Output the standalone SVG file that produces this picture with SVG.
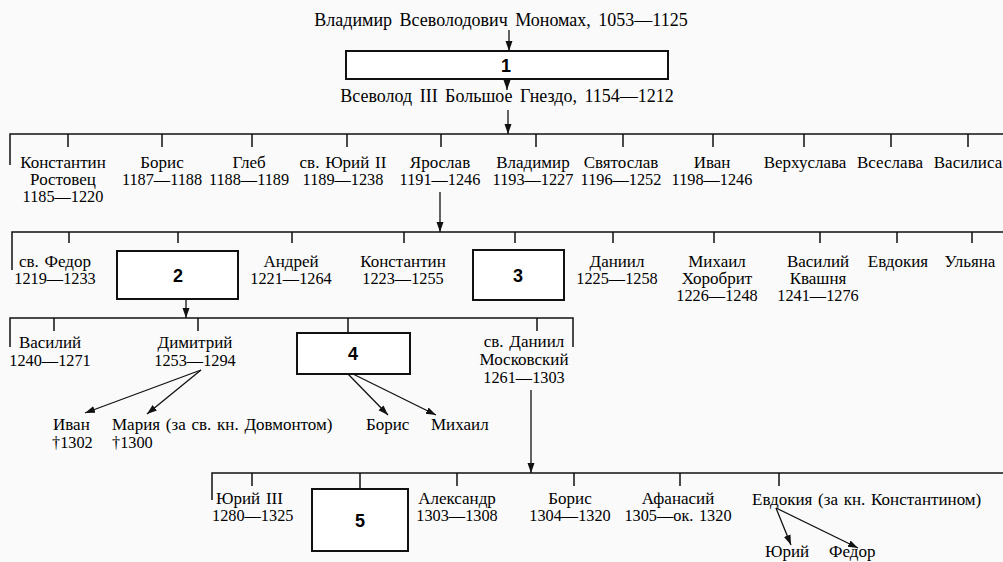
<svg xmlns="http://www.w3.org/2000/svg" width="1003" height="562" viewBox="0 0 1003 562">
<style>
text{font-family:"Liberation Serif","Times New Roman",serif;font-size:17px;word-spacing:1.5px;fill:#000}
.d{font-size:16.3px}
.t{font-size:18px;word-spacing:3px}
.c{text-anchor:middle}
.n{font-family:"Liberation Sans",Arial,sans-serif;font-weight:bold;font-size:18px;text-anchor:middle}
.box{fill:#fff;stroke:#111;stroke-width:2}
.ln{fill:none;stroke:#111;stroke-width:1.5}
.ar{fill:none;stroke:#111;stroke-width:1.3;marker-end:url(#ah)}
</style>
<defs>
<marker id="ah" markerUnits="userSpaceOnUse" markerWidth="10" markerHeight="10" viewBox="0 0 10 10" refX="10" refY="5" orient="auto">
<path d="M0,1.5 L10,5 L0,8.5 Z" fill="#111"/>
</marker>
</defs>
<rect width="1003" height="562" fill="#fafafa"/>

<g id="connectors">
<line class="ar" x1="509" y1="30" x2="509" y2="51"/>
<line class="ar" x1="507" y1="79" x2="507" y2="90"/>
<line class="ar" x1="508" y1="110" x2="508" y2="134"/>
<path class="ln" d="M10,165 V134 H1003"/>
<path class="ln" d="M68,134 V147 M162,134 V147 M252,134 V147 M347,134 V147 M441,134 V147 M536,134 V147 M623,134 V147 M713,134 V147 M804,134 V147 M891,134 V147 M968,134 V147"/>
<line class="ar" x1="440" y1="192" x2="440" y2="232"/>
<path class="ln" d="M12,270 V232 H1003"/>
<path class="ln" d="M69,232 V243 M178,232 V243 M292,232 V243 M404,232 V243 M515,232 V243 M613,232 V243 M714,232 V243 M820,232 V243 M897,232 V243 M972,232 V243"/>
<line class="ar" x1="186" y1="299" x2="186" y2="318"/>
<path class="ln" d="M10,347 V318 H573 V347"/>
<path class="ln" d="M54,318 V331 M198,318 V331 M348,318 V333 M537,318 V331"/>
<line class="ar" x1="201" y1="370" x2="85" y2="413"/>
<line class="ar" x1="201" y1="370" x2="147" y2="414"/>
<line class="ar" x1="348" y1="374" x2="388" y2="415"/>
<line class="ar" x1="353" y1="374" x2="436" y2="415"/>
<line class="ar" x1="531" y1="390" x2="531" y2="473"/>
<path class="ln" d="M212,500 V473 H1003"/>
<path class="ln" d="M252,473 V486 M360,473 V489 M457,473 V486 M574,473 V486 M680,473 V486 M779,473 V486"/>
<line class="ar" x1="776" y1="508" x2="791" y2="545"/>
<line class="ar" x1="776" y1="508" x2="858" y2="548"/>
</g>

<g id="root"><text class="c t" x="501" y="26">Владимир Всеволодович Мономах, 1053—1125</text></g>
<g id="box1"><rect class="box" x="346" y="51" width="322" height="28"/><text class="n" x="506" y="72">1</text></g>
<g id="vsevolod"><text class="c t" x="507" y="102">Всеволод III Большое Гнездо, 1154—1212</text></g>

<g id="konstantin-r"><text class="c" x="63" y="168">Константин</text><text class="c" x="63" y="185">Ростовец</text><text class="c d" x="63" y="202">1185—1220</text></g>
<g id="boris1"><text class="c" x="162" y="168">Борис</text><text class="c d" x="162" y="185">1187—1188</text></g>
<g id="gleb"><text class="c" x="249" y="168">Глеб</text><text class="c d" x="249" y="185">1188—1189</text></g>
<g id="yuri2"><text class="c" x="343" y="168">св. Юрий II</text><text class="c d" x="343" y="185">1189—1238</text></g>
<g id="yaroslav"><text class="c" x="440" y="168">Ярослав</text><text class="c d" x="440" y="185">1191—1246</text></g>
<g id="vladimir"><text class="c" x="533" y="168">Владимир</text><text class="c d" x="533" y="185">1193—1227</text></g>
<g id="svyatoslav"><text class="c" x="621" y="168">Святослав</text><text class="c d" x="621" y="185">1196—1252</text></g>
<g id="ivan1"><text class="c" x="712" y="168">Иван</text><text class="c d" x="712" y="185">1198—1246</text></g>
<g id="verkhuslava"><text class="c" x="805" y="168">Верхуслава</text></g>
<g id="vseslava"><text class="c" x="890" y="168">Всеслава</text></g>
<g id="vasilisa"><text class="c" x="968" y="168">Василиса</text></g>

<g id="fedor"><text class="c" x="55" y="267">св. Федор</text><text class="c d" x="55" y="284">1219—1233</text></g>
<g id="box2"><rect class="box" x="117" y="251" width="121" height="48"/><text class="n" x="178" y="282">2</text></g>
<g id="andrey"><text class="c" x="291" y="267">Андрей</text><text class="c d" x="291" y="284">1221—1264</text></g>
<g id="konstantin2"><text class="c" x="403" y="267">Константин</text><text class="c d" x="403" y="284">1223—1255</text></g>
<g id="box3"><rect class="box" x="473" y="250" width="91" height="50"/><text class="n" x="518" y="282">3</text></g>
<g id="daniil"><text class="c" x="617" y="267">Даниил</text><text class="c d" x="617" y="284">1225—1258</text></g>
<g id="mikhail-h"><text class="c" x="717" y="267">Михаил</text><text class="c" x="717" y="284">Хоробрит</text><text class="c d" x="717" y="301">1226—1248</text></g>
<g id="vasiliy-k"><text class="c" x="818" y="267">Василий</text><text class="c" x="818" y="284">Квашня</text><text class="c d" x="818" y="301">1241—1276</text></g>
<g id="evdokia1"><text class="c" x="898" y="267">Евдокия</text></g>
<g id="ulyana"><text class="c" x="970" y="267">Ульяна</text></g>

<g id="vasiliy"><text class="c" x="50" y="348">Василий</text><text class="c d" x="50" y="366">1240—1271</text></g>
<g id="dimitriy"><text class="c" x="195" y="348">Димитрий</text><text class="c d" x="195" y="366">1253—1294</text></g>
<g id="box4"><rect class="box" x="297" y="333" width="113" height="41"/><text class="n" x="353" y="360">4</text></g>
<g id="daniil-m"><text class="c" x="524" y="347">св. Даниил</text><text class="c" x="524" y="365">Московский</text><text class="c d" x="524" y="383">1261—1303</text></g>
<g id="ivan2"><text x="53" y="430">Иван</text><text class="d" x="52" y="448">†1302</text></g>
<g id="maria"><text x="112" y="430">Мария (за св. кн. Довмонтом)</text><text class="d" x="112" y="448">†1300</text></g>
<g id="boris2"><text x="366" y="430">Борис</text></g>
<g id="mikhail2"><text x="431" y="430">Михаил</text></g>

<g id="yuri3"><text x="216" y="504">Юрий III</text><text class="d" x="212" y="521">1280—1325</text></g>
<g id="box5"><rect class="box" x="312" y="489" width="96" height="62"/><text class="n" x="360" y="527">5</text></g>
<g id="aleksandr"><text class="c" x="457" y="504">Александр</text><text class="c d" x="457" y="521">1303—1308</text></g>
<g id="boris3"><text class="c" x="570" y="504">Борис</text><text class="c d" x="570" y="521">1304—1320</text></g>
<g id="afanasiy"><text class="c" x="678" y="504">Афанасий</text><text class="c d" x="678" y="521">1305—ок. 1320</text></g>
<g id="evdokia2"><text x="752" y="505">Евдокия (за кн. Константином)</text></g>
<g id="yuri-s"><text x="765" y="557">Юрий</text></g>
<g id="fedor-s"><text x="829" y="557">Федор</text></g>
</svg>
